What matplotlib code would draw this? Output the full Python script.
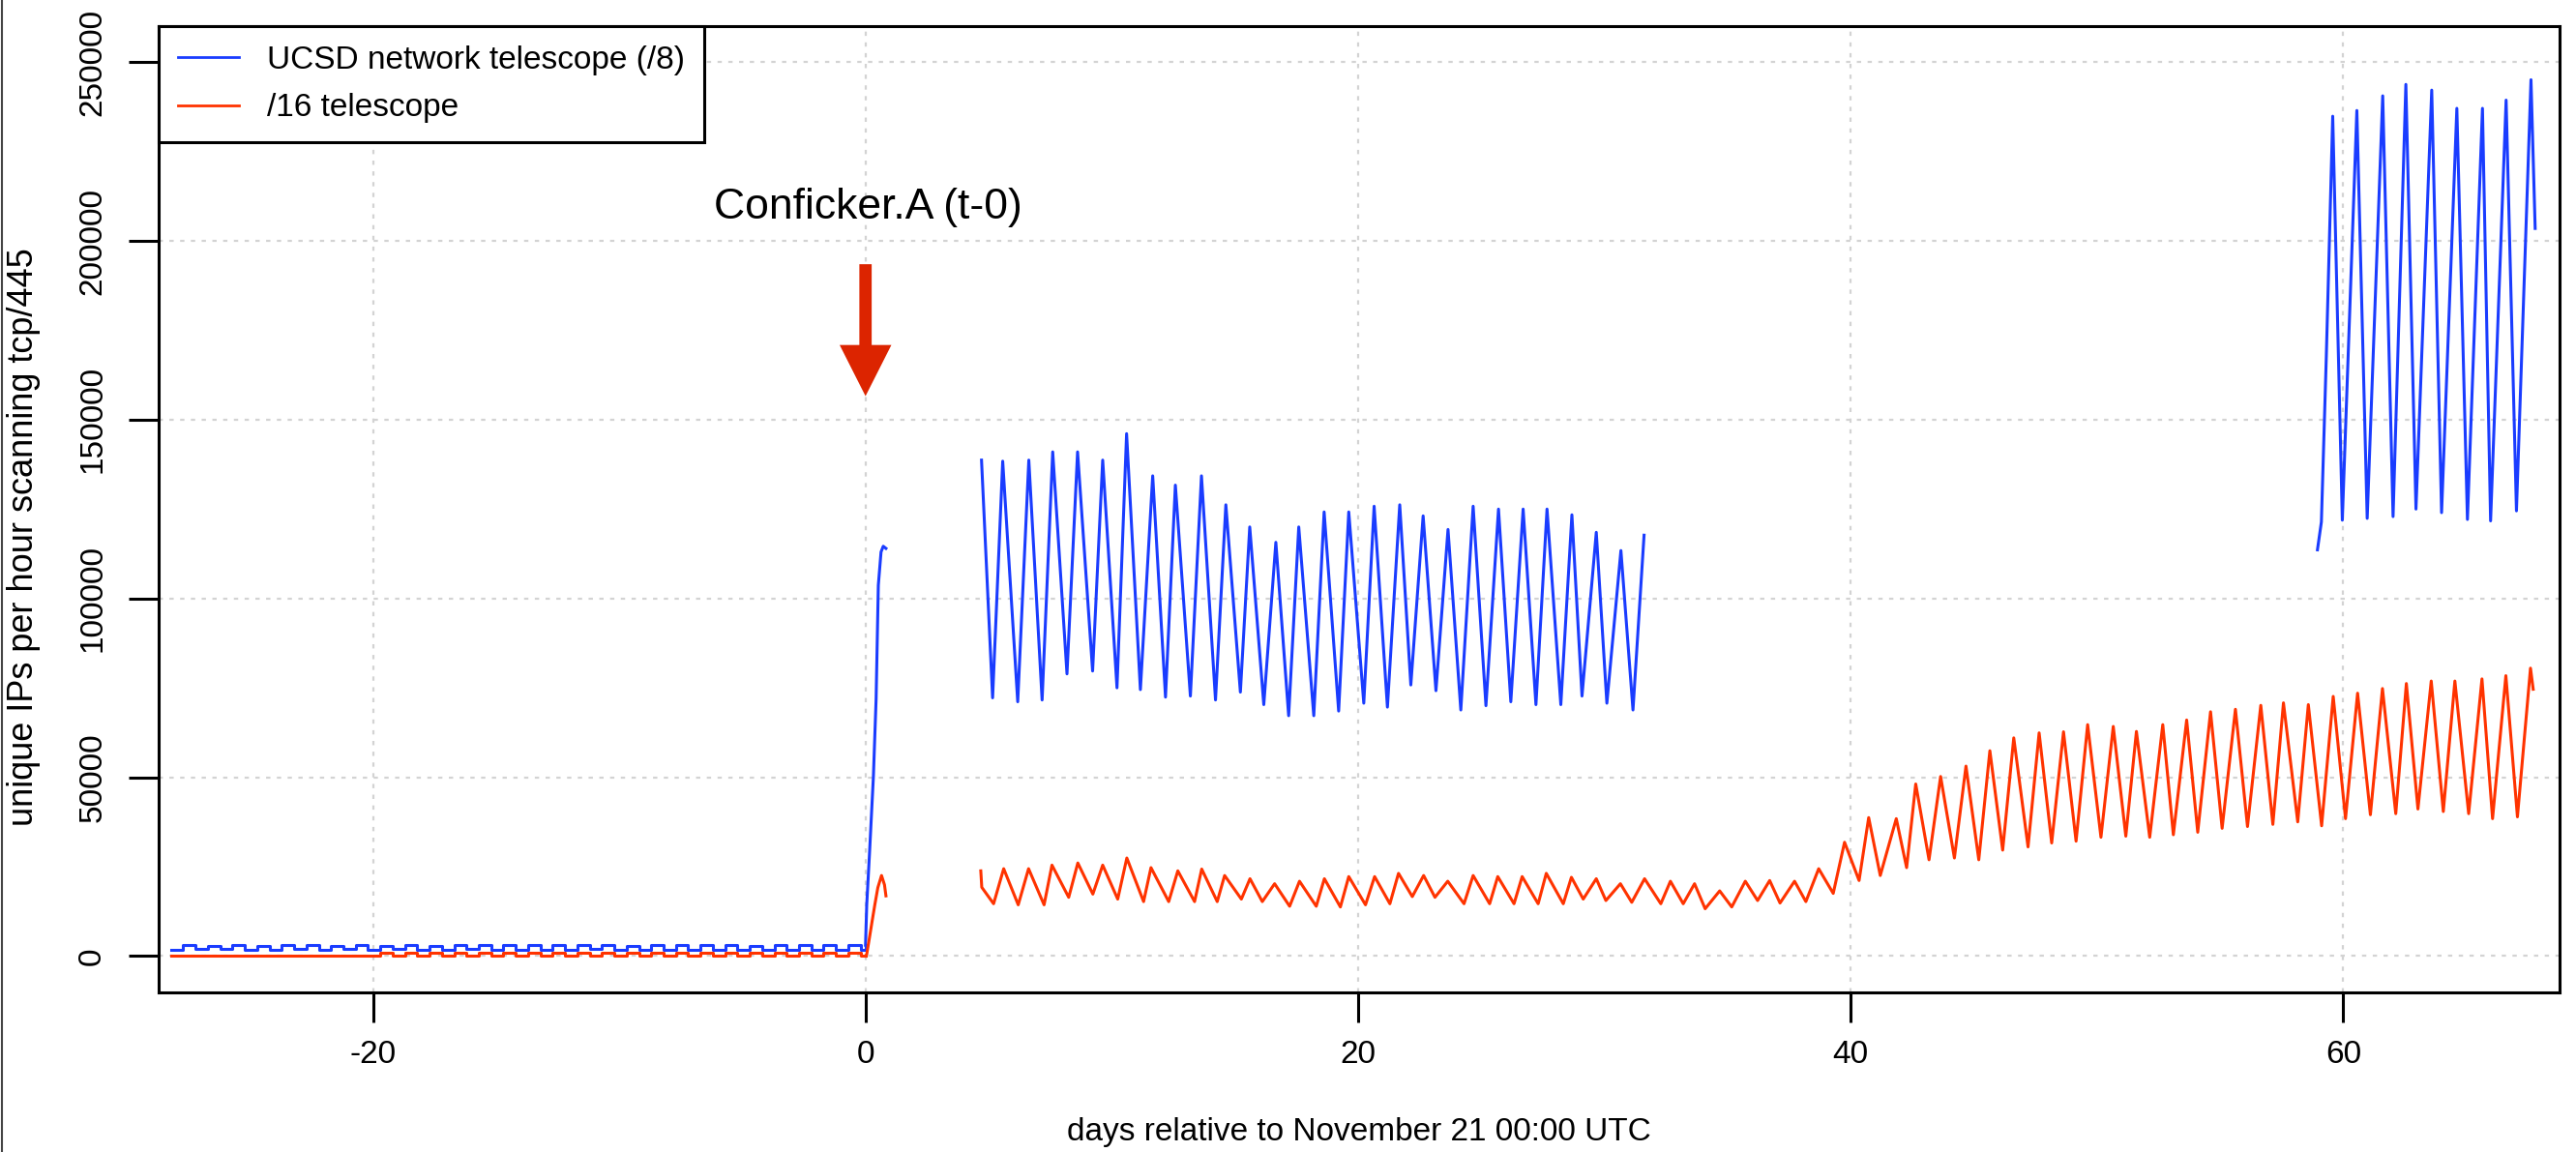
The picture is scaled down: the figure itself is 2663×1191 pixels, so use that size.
import numpy as np
import matplotlib
matplotlib.use("Agg")
import matplotlib.pyplot as plt
from matplotlib.lines import Line2D

plt.rcParams['font.family'] = ['Liberation Sans', 'DejaVu Sans']

# before the outbreak: half-day samples (days relative to Nov 21)
pre_days = [-28.2, -27.7, -27.2, -26.7, -26.2, -25.7, -25.2, -24.7, -24.2, -23.7,
            -23.2, -22.7, -22.2, -21.7, -21.2, -20.7, -20.2, -19.7, -19.2, -18.7,
            -18.2, -17.7, -17.2, -16.7, -16.2, -15.7, -15.2, -14.7, -14.2, -13.7,
            -13.2, -12.7, -12.2, -11.7, -11.2, -10.7, -10.2, -9.7, -9.2, -8.7,
            -8.2, -7.7, -7.2, -6.7, -6.2, -5.7, -5.2, -4.7, -4.2, -3.7,
            -3.2, -2.7, -2.2, -1.7, -1.2, -0.7, -0.2, 0.0]
ucsd_pre = [1800, 3000, 2000, 2900, 1900, 3000, 1800, 2900, 1700, 3100,
            1900, 3000, 1800, 2800, 1900, 3000, 1800, 2900, 2000, 3000,
            1800, 2900, 1700, 3000, 1900, 3000, 1800, 3000, 1800, 3100,
            1800, 3000, 1800, 3000, 1900, 3000, 1800, 2900, 1700, 3000,
            1800, 3000, 1700, 3000, 1800, 3000, 1800, 2900, 1800, 3000,
            1800, 3000, 1800, 3000, 1800, 3000, 1800, 3000]
tel16_pre = [0, 0, 0, 0, 0, 0, 0, 0, 0, 0,
             0, 0, 0, 0, 0, 0, 0, 1000, 0, 1000,
             0, 1000, 0, 1000, 0, 1000, 0, 1000, 0, 1000,
             0, 1000, 0, 1000, 0, 1000, 0, 1000, 0, 1000,
             0, 1000, 0, 1000, 0, 1000, 0, 1000, 0, 1000,
             0, 1000, 0, 1000, 0, 1000, 0, 0]

# outbreak ramp
ucsd_ramp_days = [0.0, 0.05, 0.16, 0.32, 0.43, 0.52, 0.63, 0.72, 0.83]
ucsd_ramp = [3000, 14400, 28400, 50200, 71900, 103700, 113000, 114600, 114000]
tel16_ramp_days = [0.0, 0.05, 0.16, 0.27, 0.38, 0.50, 0.65, 0.77, 0.83]
tel16_ramp = [0, 500, 5100, 9800, 14400, 19100, 22500, 19900, 16800]

# /8 telescope, daily peaks and troughs, days 4.7 - 31.6
ucsd_mid_days = [4.71, 5.16, 5.57, 6.18, 6.63, 7.17, 7.60, 8.18, 8.61, 9.22,
                 9.63, 10.21, 10.60, 11.16, 11.66, 12.18, 12.58, 13.19, 13.64, 14.21,
                 14.63, 15.22, 15.60, 16.17, 16.66, 17.18, 17.59, 18.20, 18.62, 19.21,
                 19.62, 20.23, 20.65, 21.19, 21.69, 22.14, 22.64, 23.16, 23.65, 24.17,
                 24.67, 25.19, 25.70, 26.20, 26.70, 27.22, 27.67, 28.23, 28.68, 29.09,
                 29.67, 30.10, 30.67, 31.16, 31.61]
ucsd_mid = [138700, 72200, 138400, 71100, 138700, 71600, 141000, 78900, 141000, 79700,
            138700, 75000, 146100, 74500, 134300, 72400, 131700, 72700, 134300, 71600,
            126200, 73800, 120000, 70300, 115700, 67200, 120000, 67200, 124200, 68500,
            124200, 70700, 125800, 69600, 126200, 75800, 123100, 74200, 119300, 68800,
            125800, 70000, 125000, 71100, 125000, 70300, 125000, 70300, 123400, 72700,
            118500, 70700, 113400, 68800, 117700]

# /8 telescope, days 59 - 67.8
ucsd_late_days = [58.95, 59.11, 59.31, 59.57, 59.96, 60.55, 60.97, 61.60, 62.02, 62.54,
                  62.95, 63.59, 63.99, 64.61, 65.04, 65.65, 65.98, 66.61, 67.03, 67.62,
                  67.79]
ucsd_late = [113600, 121400, 167700, 234900, 121900, 236500, 122400, 240600, 122900, 243800,
             125000, 242200, 124000, 237100, 122100, 237100, 121700, 239400, 124500, 245100,
             203500]

# /16 telescope, days 4.7 - 67.7
tel16_days = [4.68, 4.72, 5.20, 5.61, 6.20, 6.62, 7.25, 7.57, 8.25, 8.62,
              9.23, 9.63, 10.24, 10.61, 11.29, 11.59, 12.31, 12.68, 13.36, 13.65,
              14.28, 14.58, 15.26, 15.61, 16.11, 16.61, 17.22, 17.62, 18.30, 18.63,
              19.28, 19.62, 20.30, 20.67, 21.29, 21.64, 22.20, 22.66, 23.12, 23.64,
              24.30, 24.67, 25.34, 25.67, 26.33, 26.66, 27.31, 27.64, 28.33, 28.66,
              29.14, 29.67, 30.06, 30.65, 31.11, 31.63, 32.29, 32.68, 33.20, 33.66,
              34.09, 34.68, 35.17, 35.72, 36.22, 36.71, 37.13, 37.72, 38.18, 38.70,
              39.29, 39.75, 40.34, 40.73, 41.20, 41.85, 42.27, 42.64, 43.18, 43.65,
              44.21, 44.68, 45.20, 45.65, 46.17, 46.62, 47.20, 47.65, 48.16, 48.64,
              49.15, 49.62, 50.16, 50.66, 51.17, 51.60, 52.14, 52.67, 53.10, 53.64,
              54.09, 54.61, 55.08, 55.62, 56.11, 56.65, 57.14, 57.57, 58.15, 58.58,
              59.12, 59.59, 60.09, 60.58, 61.10, 61.59, 62.13, 62.56, 63.03, 63.57,
              64.06, 64.53, 65.09, 65.63, 66.06, 66.60, 67.07, 67.60, 67.71]
tel16 = [23800, 19200, 14600, 24400, 14300, 24400, 14300, 25400, 16400, 26000,
         17300, 25400, 15900, 27400, 15200, 24700, 15200, 23800, 15200, 24300,
         15200, 22500, 15900, 21600, 15200, 20200, 13900, 20900, 13900, 21600,
         13700, 22200, 14300, 22200, 14600, 23100, 16600, 22500, 16400, 20900,
         14600, 22500, 14600, 22200, 14600, 22200, 14600, 23100, 14600, 22000,
         15900, 21600, 15500, 20200, 15000, 21600, 14600, 20900, 14600, 20200,
         13200, 18200, 13700, 20900, 15500, 21100, 14800, 20900, 15200, 24400,
         17500, 31800, 21100, 38700, 22500, 38400, 24700, 48100, 26900, 50200,
         27400, 53100, 26900, 57400, 29600, 61000, 30500, 62400, 31600, 62700,
         32100, 64700, 33200, 64200, 33500, 62800, 33200, 64700, 33900, 66000,
         34600, 68300, 35700, 69000, 36200, 70100, 36800, 70800, 37500, 70300,
         36400, 72600, 38400, 73500, 39500, 74800, 39800, 76200, 41100, 76900,
         40400, 76900, 39800, 77500, 38400, 78400, 38900, 80500, 74600]

xticks = [-20, 0, 20, 40, 60]
yticks = [0, 50000, 100000, 150000, 200000, 250000]

blue = '#1a3cff'
red = '#ff3300'
W, H = 2663, 1191
fig = plt.figure(figsize=(W / 100, H / 100), dpi=100)
ax = fig.add_axes([164 / W, 1 - 1026 / H, (2646 - 164) / W, (1026 - 27) / H])

ax.set_xlim(-28.7, 68.78)
ax.set_ylim(-10200, 260100)
ax.set_xticks(xticks)
ax.set_yticks(yticks)
ax.set_xticklabels([str(t) for t in xticks])
ax.set_yticklabels([str(t) for t in yticks], rotation=90, va='center')
ax.grid(True, color='#d3d3d3', linestyle=(0, (2, 3)), linewidth=1.6)
ax.set_axisbelow(True)
ax.tick_params(axis='both', direction='out', length=22, width=2.2, labelsize=24)
ax.tick_params(axis='x', pad=13)
ax.tick_params(axis='y', pad=16)
for sp in ax.spines.values():
    sp.set_linewidth(2.2)

lw = 2.2
ax.plot(pre_days, ucsd_pre, color=blue, lw=lw, drawstyle='steps-post')
ax.plot(pre_days, tel16_pre, color=red, lw=lw, drawstyle='steps-post')
ax.plot(ucsd_ramp_days, ucsd_ramp, color=blue, lw=lw)
ax.plot(tel16_ramp_days, tel16_ramp, color=red, lw=lw)
ax.plot(ucsd_mid_days, ucsd_mid, color=blue, lw=lw)
ax.plot(ucsd_late_days, ucsd_late, color=blue, lw=lw)
ax.plot(tel16_days, tel16, color=red, lw=lw)

# annotation
ax.arrow(0, 193500, 0, 156600 - 193500, width=0.5, head_width=2.1,
         head_length=14300, length_includes_head=True, color='#dc2400', lw=0)
ax.text(0.1, 209500, 'Conficker.A (t-0)', fontsize=32, ha='center', va='center')

handles = [Line2D([], [], color=blue, lw=2), Line2D([], [], color=red, lw=2)]
leg = ax.legend(handles, ['UCSD network telescope (/8)', '/16 telescope'],
                loc='upper left', borderaxespad=0, fontsize=24, fancybox=False,
                framealpha=1, edgecolor='black', handlelength=1.9,
                handletextpad=0.85, labelspacing=0.55, borderpad=0.6)
leg.get_frame().set_linewidth(2.2)

fig.text(25 / W, 1 - 555 / H, 'unique IPs per hour scanning tcp/445', rotation=90,
         ha='center', va='center', fontsize=26)
fig.text((164 + 2646) / 2 / W, 1 - 1170 / H, 'days relative to November 21 00:00 UTC',
         ha='center', va='center', fontsize=24)
fig.add_artist(Line2D([0.0006, 0.0006], [0, 1], color='#444444', lw=1.5))

fig.savefig('out.png', dpi=100)
